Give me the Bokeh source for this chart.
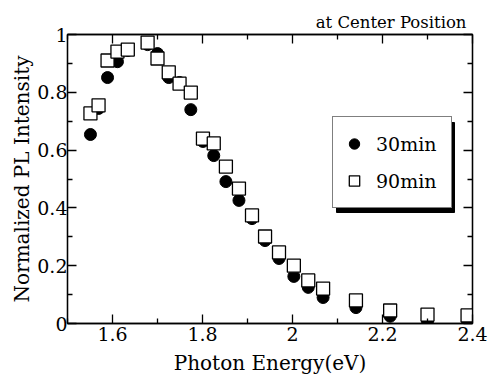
from bokeh.plotting import figure
from bokeh.models import (Range1d, FixedTicker, LinearAxis, Legend, LegendItem,
                          BoxAnnotation, Title, CustomLabelingPolicy)
from bokeh.embed import file_html
from bokeh.resources import INLINE

# ---- data ----
energy = [1.551, 1.569, 1.589, 1.611, 1.634, 1.678, 1.700, 1.725, 1.749, 1.774,
          1.801, 1.825, 1.852, 1.881, 1.910, 1.939, 1.970, 2.003, 2.035, 2.068,
          2.141, 2.217, 2.300, 2.389]
pl_30min = [0.654, 0.744, 0.851, 0.906, 0.945, 0.965, 0.934, 0.851, 0.834, 0.740,
            0.630, 0.581, 0.491, 0.426, 0.363, 0.287, 0.225, 0.163, 0.125, 0.090,
            0.055, 0.025, 0.008, 0.008]
pl_90min = [0.727, 0.755, 0.910, 0.941, 0.948, 0.972, 0.917, 0.869, 0.830, 0.799,
            0.640, 0.623, 0.543, 0.467, 0.374, 0.301, 0.246, 0.200, 0.149, 0.121,
            0.080, 0.045, 0.031, 0.028]

x_ticks = [1.6, 1.8, 2.0, 2.2, 2.4]
x_tick_labels = ["1.6", "1.8", "2", "2.2", "2.4"]
x_minor = [1.5, 1.7, 1.9, 2.1, 2.3]
y_ticks = [0, 0.2, 0.4, 0.6, 0.8, 1.0]
y_tick_labels = ["0", "0.2", "0.4", "0.6", "0.8", "1"]
y_minor = [0.1, 0.3, 0.5, 0.7, 0.9]

FONT = "DejaVu Serif"
X0, X1, Y0, Y1 = 1.5, 2.4, 0.0, 1.0

p = figure(width=489, height=378, output_backend="svg", toolbar_location=None,
           x_range=Range1d(X0, X1), y_range=Range1d(Y0, Y1),
           min_border_left=67, min_border_right=17, min_border_top=34,
           min_border_bottom=55)
p.xgrid.visible = False
p.ygrid.visible = False
p.outline_line_color = "black"
p.outline_line_width = 1.3
p.background_fill_color = "white"
p.border_fill_color = "white"

no_labels = CustomLabelingPolicy(code="""
const all = [...indices]
for (const i of all) indices.unset(i)
return indices
""")


def style_axis(ax, ticks, minor, labels=None):
    ax.ticker = FixedTicker(ticks=ticks, minor_ticks=minor)
    ax.major_tick_in = 9
    ax.major_tick_out = 0
    ax.minor_tick_in = 5
    ax.minor_tick_out = 0
    ax.axis_line_color = "black"
    ax.axis_line_width = 1.3
    ax.major_tick_line_width = 1.3
    ax.minor_tick_line_width = 1.3
    ax.major_label_text_font = FONT
    ax.major_label_text_font_size = "19px"
    ax.major_label_text_color = "black"
    ax.axis_label_text_font = FONT
    ax.axis_label_text_font_size = "20px"
    ax.axis_label_text_font_style = "normal"
    ax.axis_label_text_color = "black"
    if labels is not None:
        ax.major_label_overrides = {t: l for t, l in zip(ticks, labels)}
    else:
        ax.major_label_policy = no_labels
        ax.major_label_text_font_size = "0px"
        ax.major_label_standoff = 0


style_axis(p.xaxis[0], x_ticks, x_minor, x_tick_labels)
style_axis(p.yaxis[0], y_ticks, y_minor, y_tick_labels)
p.xaxis[0].axis_label = "Photon Energy(eV)"
p.yaxis[0].axis_label = "Normalized PL Intensity"
p.xaxis[0].major_label_standoff = 3
p.xaxis[0].axis_label_standoff = 7
p.yaxis[0].major_label_standoff = 0
p.yaxis[0].axis_label_standoff = 0

top_ax = LinearAxis()
right_ax = LinearAxis()
style_axis(top_ax, x_ticks, x_minor)
style_axis(right_ax, y_ticks, y_minor)
p.add_layout(top_ax, "above")
p.add_layout(right_ax, "right")

p.add_layout(Title(text="at Center Position", align="right", offset=6,
                   standoff=5, text_font=FONT, text_font_size="16.5px",
                   text_font_style="normal", text_color="black"), "above")

r30 = p.scatter(energy, pl_30min, marker="circle", size=12,
                fill_color="black", line_color="black", line_width=1)
r90 = p.scatter(energy, pl_90min, marker="square", size=13,
                fill_color="white", line_color="black", line_width=1.3)


# pixel helpers for annotation placement (frame: x 67..472, y 34..323 page px)
def dx(px):
    return X0 + (px - 67) * (X1 - X0) / (472 - 67)


def dy(py):
    return Y0 + (323 - py) * (Y1 - Y0) / (323 - 34)


shadow = BoxAnnotation(left=dx(336), right=dx(454), top=dy(122), bottom=dy(212),
                       fill_color="black", fill_alpha=1.0, line_color="black",
                       line_alpha=1.0)
p.add_layout(shadow)

legend = Legend(items=[LegendItem(label="30min", renderers=[r30]),
                       LegendItem(label="90min", renderers=[r90])],
                location=(332 - 67, 323 - 208),
                padding=8, spacing=0, margin=0,
                glyph_width=26, glyph_height=37, label_height=37,
                label_width=67, label_standoff=9,
                label_text_font=FONT, label_text_font_size="19px",
                label_text_color="black",
                border_line_color="black", border_line_width=1.3,
                background_fill_color="white", background_fill_alpha=1.0)
p.add_layout(legend)

open("out.html", "w").write(file_html(p, INLINE))
